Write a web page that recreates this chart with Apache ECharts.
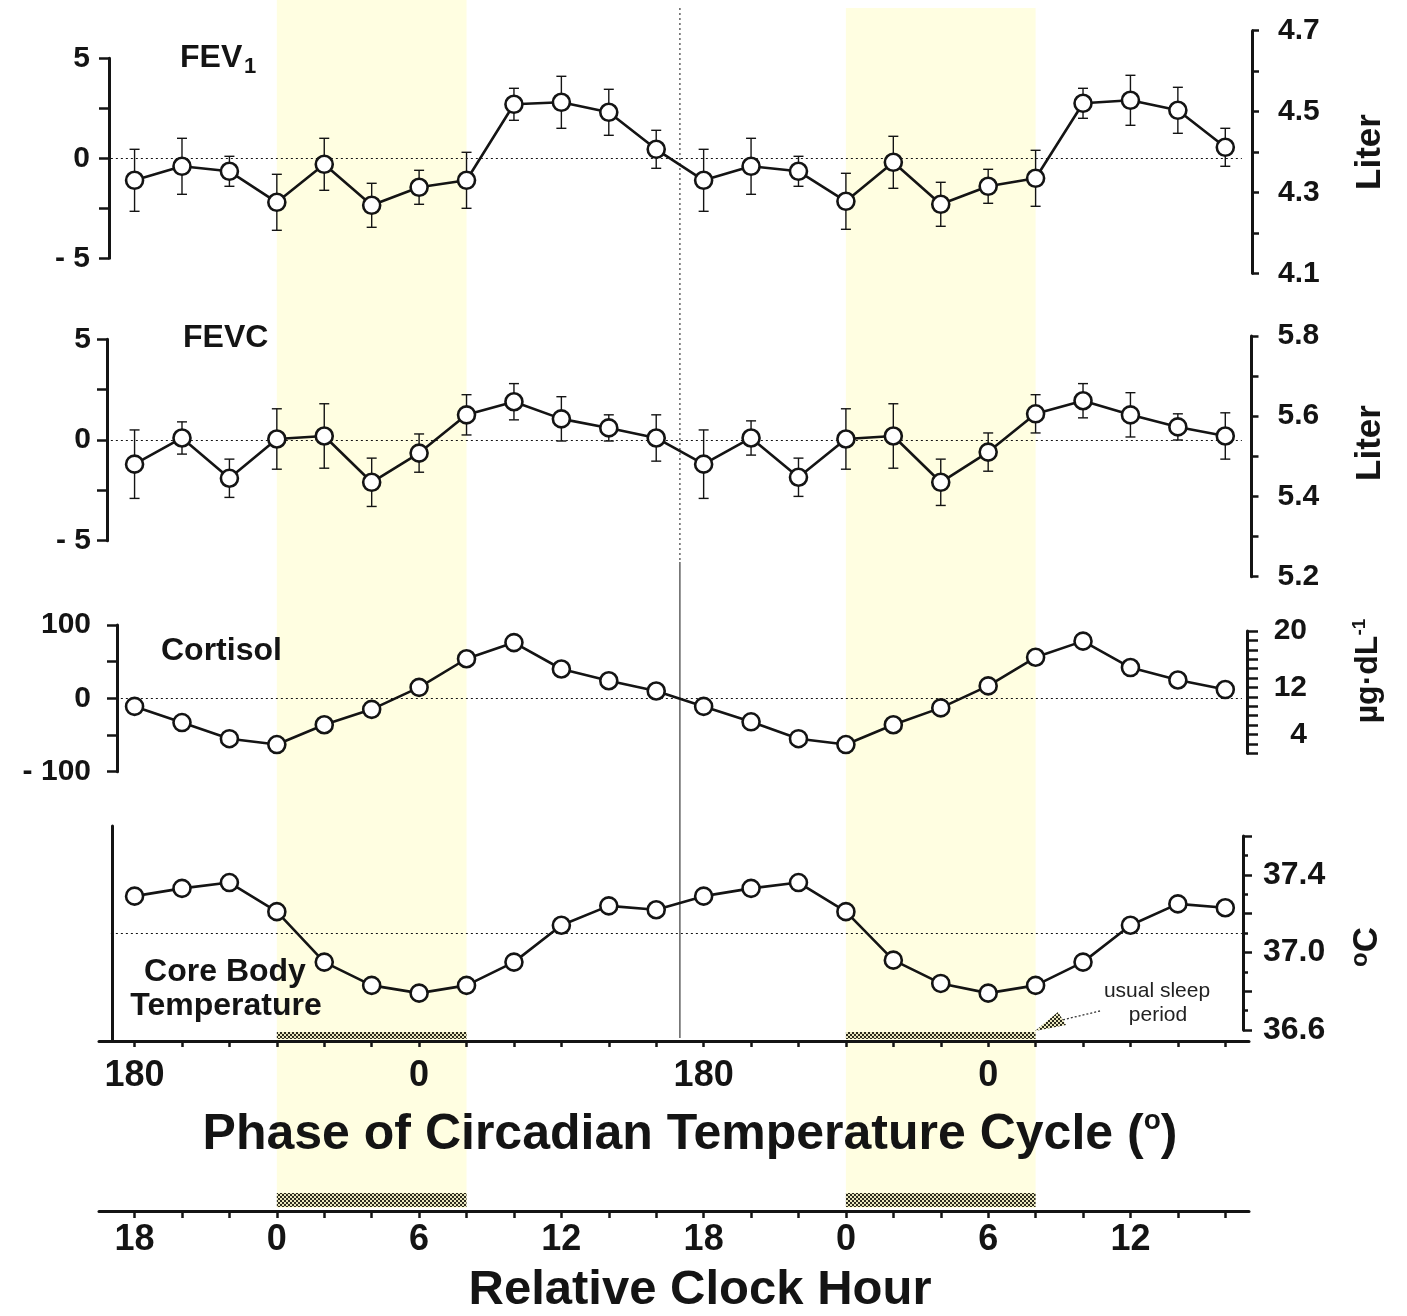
<!DOCTYPE html>
<html>
<head>
<meta charset="utf-8">
<title>Circadian rhythms of FEV1, FEVC, cortisol and core body temperature</title>
<script src="https://cdn.jsdelivr.net/npm/echarts@6/dist/echarts.min.js"></script>
<style>
  html, body { margin: 0; padding: 0; background: #ffffff; }
  #chart { width: 1407px; height: 1316px; }
</style>
</head>
<body>
<div id="chart"></div>
<script>
// ---------------------------------------------------------------------------
// Data (double-plotted: two consecutive circadian cycles)
// Sampling times in hours elapsed since 18:00 of the first plotted day
const hours = [0, 2, 4, 6, 8, 10, 12, 14, 16, 18, 20, 22,
               24, 26, 28, 30, 32, 34, 36, 38, 40, 42, 44, 46];

// FEV1, % change from mean, with SEM
const fev1Change = [-1.1, -0.4, -0.65, -2.2, -0.3, -2.35, -1.45, -1.1, 2.7, 2.8, 2.3, 0.45,
                    -1.1, -0.4, -0.65, -2.15, -0.2, -2.3, -1.4, -1.0, 2.75, 2.9, 2.4, 0.55];
const fev1Sem = [1.55, 1.4, 0.75, 1.4, 1.3, 1.1, 0.85, 1.4, 0.8, 1.3, 1.15, 0.95,
                 1.55, 1.4, 0.75, 1.4, 1.3, 1.1, 0.85, 1.4, 0.75, 1.25, 1.15, 0.95];

// FEVC, % change from mean, with SEM
const fevcChange = [-1.2, 0.1, -1.9, 0.05, 0.2, -2.1, -0.65, 1.25, 1.9, 1.05, 0.6, 0.1,
                    -1.2, 0.1, -1.85, 0.05, 0.2, -2.1, -0.6, 1.3, 1.95, 1.25, 0.65, 0.2];
const fevcSem = [1.7, 0.8, 0.95, 1.5, 1.6, 1.2, 0.95, 1.0, 0.9, 1.1, 0.65, 1.15,
                 1.7, 0.85, 0.95, 1.5, 1.6, 1.15, 0.95, 0.95, 0.85, 1.1, 0.65, 1.15];

// Cortisol, % change from mean
const cortisolChange = [-11, -33, -55, -63, -36, -15, 15, 54, 76, 40, 24, 10,
                        -11, -32, -55, -63, -36, -13, 17, 56, 78, 42, 25, 12];

// Core body temperature, degrees C
const coreTemp = [37.29, 37.33, 37.36, 37.21, 36.95, 36.83, 36.79, 36.83, 36.95, 37.14, 37.24, 37.22,
                  37.29, 37.33, 37.36, 37.21, 36.96, 36.84, 36.79, 36.83, 36.95, 37.14, 37.25, 37.23];
const coreTempMean = 37.1;

// Usual sleep period (00:00 - 08:00) and the boundary between plotted cycles
const sleepPeriods = [[6, 14], [30, 38]];
const cycleBoundary = 23;

// Tick labels
const clockTickHours = [0, 6, 12, 18, 24, 30, 36, 42];
const clockTickLabels = ['18', '0', '6', '12', '18', '0', '6', '12'];
const phaseTickHours = [0, 12, 24, 36];
const phaseTickLabels = ['180', '0', '180', '0'];
const pctTicks = [-5, -2.5, 0, 2.5, 5];
const pctLabels = [-5, 0, 5];
const cortisolPctTicks = [-100, -50, 0, 50, 100];
const cortisolPctLabels = [-100, 0, 100];
const fev1LiterRange = [4.1, 4.7];
const fev1LiterLabels = [4.1, 4.3, 4.5, 4.7];
const fevcLiterRange = [5.2, 5.8];
const fevcLiterLabels = [5.2, 5.4, 5.6, 5.8];
const cortisolScaleTickCount = 14;
const cortisolScaleSlots = [0, 6, 11];
const cortisolScaleLabels = ['20', '12', '4'];
const tempRange = [36.6, 37.6];
const tempLabels = [36.6, 37.0, 37.4];

// ---------------------------------------------------------------------------
// Layout and style
const FONT = "'Liberation Sans', Arial, Helvetica, sans-serif";
const INK = '#141414';
const SLEEP_FILL = '#fffee1';
const PLOT_LEFT = 99, PLOT_WIDTH = 1150;
const X_MIN = -1.5, X_MAX = 47;
// horizontal extent of the dotted reference lines (hours)
const REF_FROM = -1.0, REF_TO = 46.7;

const grids = [
  { top: 58.3,  height: 200 },    // 0  FEV1 (%)
  { top: 30.7,  height: 242.6 },  // 1  FEV1 (litres)
  { top: 339.3, height: 201.4 },  // 2  FEVC (%)
  { top: 336,   height: 240.7 },  // 3  FEVC (litres)
  { top: 625,   height: 146.7 },  // 4  cortisol (%)
  { top: 631,   height: 122.3 },  // 5  cortisol (ug/dL)
  { top: 836,   height: 194 },    // 6  core body temperature
  { top: 826,   height: 215 },    // 7  phase axis + temperature frame
  { top: 1160,  height: 51 },     // 8  clock-hour axis
  { top: 0,     height: 1316 }    // 9  full-height layer for sleep shading
].map(g => Object.assign({ left: PLOT_LEFT, width: PLOT_WIDTH, outerBoundsMode: 'none', containLabel: false }, g));

function hatchPattern() {
  const c = document.createElement('canvas');
  c.width = 4; c.height = 4;
  const g = c.getContext('2d');
  g.fillStyle = '#e9e6bd';
  g.fillRect(0, 0, 4, 4);
  g.fillStyle = '#2c2b1e';
  g.fillRect(0, 0, 2, 2);
  g.fillRect(2, 2, 2, 2);
  g.fillRect(1, 0, 1, 1);
  g.fillRect(3, 2, 1, 1);
  return c;
}
const HATCH = { image: hatchPattern(), repeat: 'repeat' };

const signed = v => (v < 0 ? '- ' + Math.abs(v) : String(v));
const line = w => ({ show: true, onZero: false, lineStyle: { color: INK, width: w } });
const ticks = (len, extra) => Object.assign({ show: true, length: len, lineStyle: { color: INK, width: 2.5 } }, extra || {});
const labels = (size, extra) => Object.assign({ show: true, color: INK, fontFamily: FONT, fontWeight: 'bold', fontSize: size }, extra || {});
const noSplit = { show: false };

// ---------------------------------------------------------------------------
// Axes
const xAxis = grids.map((g, i) => {
  const base = { type: 'value', gridIndex: i, min: X_MIN, max: X_MAX, splitLine: noSplit };
  if (i === 7) {
    return Object.assign(base, {
      position: 'bottom',
      axisLine: line(3),
      axisTick: ticks(6, { customValues: hours }),
      axisLabel: labels(36, {
        customValues: phaseTickHours,
        formatter: v => phaseTickLabels[phaseTickHours.indexOf(v)],
        margin: 17
      })
    });
  }
  if (i === 8) {
    return Object.assign(base, {
      position: 'bottom',
      axisLine: line(3),
      axisTick: ticks(7, { customValues: hours }),
      axisLabel: labels(36, {
        customValues: clockTickHours,
        formatter: v => clockTickLabels[clockTickHours.indexOf(v)],
        margin: 11
      })
    });
  }
  return Object.assign(base, { show: false });
});

const yAxis = [
  { // 0 FEV1 %
    gridIndex: 0, type: 'value', position: 'left', offset: -10, min: -5, max: 5,
    axisLine: line(3), splitLine: noSplit,
    axisTick: ticks(10, { customValues: pctTicks }),
    axisLabel: labels(30, { customValues: pctLabels, formatter: signed, margin: 19 })
  },
  { // 1 FEV1 litres
    gridIndex: 1, type: 'value', position: 'right', offset: 3,
    min: fev1LiterRange[0], max: fev1LiterRange[1], interval: 0.1,
    axisLine: line(3), splitLine: noSplit,
    axisTick: ticks(7),
    axisLabel: labels(30, { customValues: fev1LiterLabels, formatter: v => v.toFixed(1), margin: 26, padding: [0, 0, 10, 0] })
  },
  { // 2 FEVC %
    gridIndex: 2, type: 'value', position: 'left', offset: -8, min: -5, max: 5,
    axisLine: line(3), splitLine: noSplit,
    axisTick: ticks(10, { customValues: pctTicks }),
    axisLabel: labels(30, { customValues: pctLabels, formatter: signed, margin: 16 })
  },
  { // 3 FEVC litres
    gridIndex: 3, type: 'value', position: 'right', offset: 2.5,
    min: fevcLiterRange[0], max: fevcLiterRange[1], interval: 0.1,
    axisLine: line(3), splitLine: noSplit,
    axisTick: ticks(7),
    axisLabel: labels(30, { customValues: fevcLiterLabels, formatter: v => v.toFixed(1), margin: 26 })
  },
  { // 4 cortisol %
    gridIndex: 4, type: 'value', position: 'left', offset: -18, min: -100, max: 100,
    axisLine: line(3), splitLine: noSplit,
    axisTick: ticks(10, { customValues: cortisolPctTicks }),
    axisLabel: labels(30, { customValues: cortisolPctLabels, formatter: signed, margin: 26 })
  },
  { // 5 cortisol ug/dL scale
    gridIndex: 5, type: 'value', position: 'right', offset: -2, inverse: true,
    min: 0, max: cortisolScaleTickCount - 1, interval: 1,
    axisLine: line(3), splitLine: noSplit,
    axisTick: ticks(11),
    axisLabel: labels(30, {
      customValues: cortisolScaleSlots,
      formatter: v => cortisolScaleLabels[cortisolScaleSlots.indexOf(v)],
      align: 'right', margin: 60
    })
  },
  { // 6 core temperature
    gridIndex: 6, type: 'value', position: 'right', offset: -6,
    min: tempRange[0], max: tempRange[1], interval: 0.2,
    axisLine: line(3), splitLine: noSplit,
    axisTick: ticks(9),
    minorTick: { show: true, splitNumber: 2, length: 5, lineStyle: { color: INK, width: 2.5 } },
    axisLabel: labels(32, { customValues: tempLabels, formatter: v => v.toFixed(1), margin: 20 })
  },
  { // 7 frame line of the temperature panel
    gridIndex: 7, type: 'value', position: 'left', offset: -13, min: 0, max: 1,
    axisLine: line(3), axisTick: { show: false }, axisLabel: { show: false }, splitLine: noSplit
  },
  { gridIndex: 8, type: 'value', min: 0, max: 1, show: false },
  { gridIndex: 9, type: 'value', min: 0, max: 1316, inverse: true, show: false }
];

// ---------------------------------------------------------------------------
// Series
function errorBars(values, sem, gi) {
  return {
    type: 'custom', xAxisIndex: gi, yAxisIndex: gi, z: 3, silent: true,
    data: hours.map((t, i) => [t, values[i] - sem[i], values[i] + sem[i]]),
    encode: { x: 0, y: [1, 2] },
    renderItem: (params, api) => {
      const t = api.value(0);
      const lo = api.coord([t, api.value(1)]);
      const hi = api.coord([t, api.value(2)]);
      const cap = 5;
      const style = { stroke: INK, lineWidth: 1.4, fill: null };
      return {
        type: 'group',
        children: [
          { type: 'line', shape: { x1: lo[0], y1: lo[1], x2: hi[0], y2: hi[1] }, style },
          { type: 'line', shape: { x1: lo[0] - cap, y1: lo[1], x2: lo[0] + cap, y2: lo[1] }, style },
          { type: 'line', shape: { x1: hi[0] - cap, y1: hi[1], x2: hi[0] + cap, y2: hi[1] }, style }
        ]
      };
    }
  };
}

function profile(values, gi, refValue) {
  return {
    type: 'line', xAxisIndex: gi, yAxisIndex: gi, z: 4, silent: true,
    data: hours.map((t, i) => [t, values[i]]),
    symbol: 'circle', symbolSize: 17,
    itemStyle: { color: '#ffffff', borderColor: INK, borderWidth: 2.6 },
    lineStyle: { color: INK, width: 2.6 },
    markLine: {
      silent: true, z: 1, symbol: ['none', 'none'], label: { show: false },
      lineStyle: { color: INK, width: 1.2, type: [2, 3] },
      data: [[{ coord: [REF_FROM, refValue] }, { coord: [REF_TO, refValue] }]]
    }
  };
}

const sleepShading = {
  type: 'custom', xAxisIndex: 9, yAxisIndex: 9, z: -5, silent: true,
  data: sleepPeriods,
  encode: { x: [0, 1] },
  renderItem: (params, api) => {
    const topRow = params.dataIndex === 0 ? 0 : 8;
    const a = api.coord([api.value(0), topRow]);
    const b = api.coord([api.value(1), 1208]);
    return { type: 'rect', shape: { x: a[0], y: a[1], width: b[0] - a[0], height: b[1] - a[1] }, style: { fill: SLEEP_FILL } };
  }
};

const sleepBars = {
  type: 'custom', xAxisIndex: 9, yAxisIndex: 9, z: 1, silent: true,
  data: sleepPeriods,
  encode: { x: [0, 1] },
  renderItem: (params, api) => {
    const bar = (r0, r1) => {
      const a = api.coord([api.value(0), r0]);
      const b = api.coord([api.value(1), r1]);
      return { type: 'rect', shape: { x: a[0], y: a[1], width: b[0] - a[0], height: b[1] - a[1] }, style: { fill: HATCH } };
    };
    return { type: 'group', children: [bar(1032, 1039), bar(1193, 1207)] };
  }
};

const cycleDivider = {
  type: 'custom', xAxisIndex: 9, yAxisIndex: 9, z: 1, silent: true,
  data: [[cycleBoundary]],
  encode: { x: 0 },
  renderItem: (params, api) => {
    const t = api.value(0);
    const p0 = api.coord([t, 8]), p1 = api.coord([t, 562]), p2 = api.coord([t, 1038]);
    return {
      type: 'group',
      children: [
        { type: 'line', shape: { x1: p0[0], y1: p0[1], x2: p1[0], y2: p1[1] }, style: { stroke: INK, lineWidth: 1, lineDash: [2, 3] } },
        { type: 'line', shape: { x1: p1[0], y1: p1[1], x2: p2[0], y2: p2[1] }, style: { stroke: INK, lineWidth: 1 } }
      ]
    };
  }
};

// ---------------------------------------------------------------------------
// Text annotations
const bold = (text, x, y, size, extra) => ({
  type: 'text', x, y, silent: true, z: 10,
  style: Object.assign({ text, fill: INK, fontFamily: FONT, fontWeight: 'bold', fontSize: size, align: 'left', verticalAlign: 'middle' }, extra || {})
});
const sideTitle = (text, x, y, size, rich) => ({
  type: 'text', x, y, rotation: Math.PI / 2, silent: true, z: 10,
  style: { text, rich, fill: INK, fontFamily: FONT, fontWeight: 'bold', fontSize: size, align: 'center', verticalAlign: 'middle' }
});
const richBold = (size, extra) => Object.assign({ fontFamily: FONT, fontWeight: 'bold', fontSize: size, fill: INK }, extra || {});

const graphic = [
  bold('FEV', 180, 58, 32),
  bold('1', 244, 67, 22),
  bold('FEVC', 183, 338, 32),
  bold('Cortisol', 161, 651, 32),
  bold('Core Body', 225, 972, 32, { align: 'center' }),
  bold('Temperature', 226, 1006, 32, { align: 'center' }),
  sideTitle('Liter', 1370, 152, 35),
  sideTitle('Liter', 1370, 443, 35),
  sideTitle('{m|µg·dL}{s|-1}', 1368, 671, 32, {
    m: richBold(32, { lineHeight: 36 }),
    s: richBold(19, { verticalAlign: 'top' })
  }),
  sideTitle('{s|o}{m|C}', 1367, 947, 34, {
    m: richBold(35, { lineHeight: 38 }),
    s: richBold(24, { verticalAlign: 'top' })
  }),
  {
    type: 'text', x: 690, y: 1135, silent: true, z: 10,
    style: {
      text: '{t|Phase of Circadian Temperature Cycle (}{s|o}{t|)}',
      align: 'center', verticalAlign: 'middle',
      rich: { t: richBold(50, { lineHeight: 56 }), s: richBold(28, { verticalAlign: 'top' }) }
    }
  },
  bold('Relative Clock Hour', 700, 1290, 49, { align: 'center' }),
  {
    type: 'text', x: 1157, y: 991, silent: true, z: 10,
    style: { text: 'usual sleep', fill: '#222', fontFamily: FONT, fontSize: 21, align: 'center', verticalAlign: 'middle' }
  },
  {
    type: 'text', x: 1158, y: 1015, silent: true, z: 10,
    style: { text: 'period', fill: '#222', fontFamily: FONT, fontSize: 21, align: 'center', verticalAlign: 'middle' }
  },
  {
    type: 'polyline', silent: true, z: 10,
    shape: { points: [[1100, 1011], [1062, 1020]] },
    style: { stroke: '#333', lineWidth: 1.3, lineDash: [2, 2], fill: null }
  },
  {
    type: 'polygon', silent: true, z: 10,
    shape: { points: [[1035, 1031], [1058, 1012], [1066, 1025]] },
    style: { fill: HATCH, stroke: null }
  }
];

// ---------------------------------------------------------------------------
const chart = echarts.init(document.getElementById('chart'), null, { renderer: 'canvas', width: 1407, height: 1316 });
chart.setOption({
  animation: false,
  backgroundColor: '#ffffff',
  grid: grids,
  xAxis,
  yAxis,
  series: [
    sleepShading,
    sleepBars,
    cycleDivider,
    errorBars(fev1Change, fev1Sem, 0),
    profile(fev1Change, 0, 0),
    errorBars(fevcChange, fevcSem, 2),
    profile(fevcChange, 2, 0),
    profile(cortisolChange, 4, 0),
    profile(coreTemp, 6, coreTempMean)
  ],
  graphic
});
</script>
</body>
</html>
